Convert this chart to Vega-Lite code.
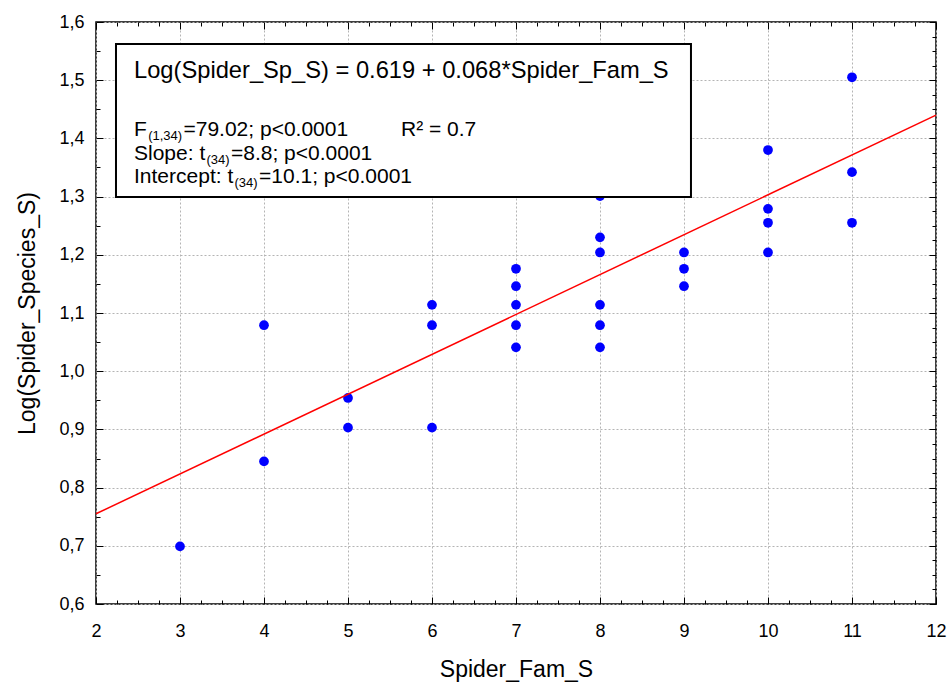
{
  "$schema": "https://vega.github.io/schema/vega-lite/v6.json",
  "width": 840,
  "height": 582,
  "autosize": {"type": "none"},
  "padding": {"left": 96, "top": 22, "right": 14, "bottom": 80},
  "background": "white",
  "datasets": {
    "pts": [
      {"fam": 3, "logsp": 0.699},
      {"fam": 4, "logsp": 1.079},
      {"fam": 4, "logsp": 0.845},
      {"fam": 5, "logsp": 0.954},
      {"fam": 5, "logsp": 0.903},
      {"fam": 6, "logsp": 1.114},
      {"fam": 6, "logsp": 1.079},
      {"fam": 6, "logsp": 0.903},
      {"fam": 7, "logsp": 1.176},
      {"fam": 7, "logsp": 1.146},
      {"fam": 7, "logsp": 1.114},
      {"fam": 7, "logsp": 1.079},
      {"fam": 7, "logsp": 1.041},
      {"fam": 8, "logsp": 1.301},
      {"fam": 8, "logsp": 1.230},
      {"fam": 8, "logsp": 1.204},
      {"fam": 8, "logsp": 1.114},
      {"fam": 8, "logsp": 1.079},
      {"fam": 8, "logsp": 1.041},
      {"fam": 9, "logsp": 1.204},
      {"fam": 9, "logsp": 1.176},
      {"fam": 9, "logsp": 1.146},
      {"fam": 10, "logsp": 1.380},
      {"fam": 10, "logsp": 1.279},
      {"fam": 10, "logsp": 1.255},
      {"fam": 10, "logsp": 1.204},
      {"fam": 11, "logsp": 1.505},
      {"fam": 11, "logsp": 1.342},
      {"fam": 11, "logsp": 1.255}
    ],
    "fit": [
      {"x": 2, "y": 0.755},
      {"x": 12, "y": 1.440}
    ]
  },
  "config": {
    "view": {"stroke": "black", "strokeWidth": 1.5},
    "font": "Liberation Sans",
    "axis": {
      "labelFont": "Liberation Sans",
      "titleFont": "Liberation Sans",
      "labelColor": "black",
      "titleColor": "black",
      "tickColor": "black",
      "tickWidth": 1,
      "domain": false,
      "labelFontSize": 18,
      "titleFontSize": 23,
      "titleFontWeight": "normal",
      "gridColor": "#b4b4b4",
      "gridDash": [2, 2],
      "gridWidth": 1
    }
  },
  "resolve": {"axis": {"x": "independent", "y": "independent"}},
  "layer": [
    {
      "data": {"name": "pts"},
      "mark": {"type": "circle", "color": "#0000ff", "opacity": 1, "size": 95},
      "encoding": {
        "x": {
          "field": "fam", "type": "quantitative",
          "scale": {"domain": [2, 12], "nice": false, "zero": false},
          "axis": {"orient": "bottom", "title": "Spider_Fam_S", "values": [2,3,4,5,6,7,8,9,10,11,12], "tickSize": -7, "labelPadding": 25, "titlePadding": 18, "grid": true, "format": "d", "labelFlush": false}
        },
        "y": {
          "field": "logsp", "type": "quantitative",
          "scale": {"domain": [0.6, 1.6], "nice": false, "zero": false},
          "axis": {"orient": "left", "title": "Log(Spider_Species_S)", "values": [0.6,0.7,0.8,0.9,1.0,1.1,1.2,1.3,1.4,1.5,1.6], "tickSize": -7, "labelPadding": 19, "titlePadding": 19, "grid": true, "labelExpr": "replace(format(datum.value, '.1f'), '.', ',')"}
        }
      }
    },
    {
      "data": {"name": "fit"},
      "mark": {"type": "line", "color": "#ff0000", "strokeWidth": 1.5},
      "encoding": {
        "x": {
          "field": "x", "type": "quantitative",
          "scale": {"domain": [2, 12], "nice": false, "zero": false},
          "axis": {"orient": "top", "title": null, "values": [2,3,4,5,6,7,8,9,10,11,12], "tickSize": -7, "labels": false, "grid": false}
        },
        "y": {
          "field": "y", "type": "quantitative",
          "scale": {"domain": [0.6, 1.6], "nice": false, "zero": false},
          "axis": {"orient": "right", "title": null, "values": [0.6,0.7,0.8,0.9,1.0,1.1,1.2,1.3,1.4,1.5,1.6], "tickSize": -7, "labels": false, "grid": false}
        }
      }
    },
    {
      "data": {"name": "fit"},
      "mark": {"type": "point", "opacity": 0},
      "encoding": {
        "x": {
          "field": "x", "type": "quantitative",
          "scale": {"domain": [2, 12], "nice": false, "zero": false},
          "axis": {"orient": "bottom", "title": null, "values": [2.25,2.5,2.75,3.25,3.5,3.75,4.25,4.5,4.75,5.25,5.5,5.75,6.25,6.5,6.75,7.25,7.5,7.75,8.25,8.5,8.75,9.25,9.5,9.75,10.25,10.5,10.75,11.25,11.5,11.75], "tickSize": -4, "labels": false, "grid": false}
        },
        "y": {
          "field": "y", "type": "quantitative",
          "scale": {"domain": [0.6, 1.6], "nice": false, "zero": false},
          "axis": {"orient": "left", "title": null, "values": [0.65,0.75,0.85,0.95,1.05,1.15,1.25,1.35,1.45,1.55], "tickSize": -4, "labels": false, "grid": false}
        }
      }
    },
    {
      "data": {"name": "fit"},
      "mark": {"type": "point", "opacity": 0},
      "encoding": {
        "x": {
          "field": "x", "type": "quantitative",
          "scale": {"domain": [2, 12], "nice": false, "zero": false},
          "axis": {"orient": "top", "title": null, "values": [2.25,2.5,2.75,3.25,3.5,3.75,4.25,4.5,4.75,5.25,5.5,5.75,6.25,6.5,6.75,7.25,7.5,7.75,8.25,8.5,8.75,9.25,9.5,9.75,10.25,10.5,10.75,11.25,11.5,11.75], "tickSize": -4, "labels": false, "grid": false}
        },
        "y": {
          "field": "y", "type": "quantitative",
          "scale": {"domain": [0.6, 1.6], "nice": false, "zero": false},
          "axis": {"orient": "right", "title": null, "values": [0.625,0.65,0.675,0.725,0.75,0.775,0.825,0.85,0.875,0.925,0.95,0.975,1.025,1.05,1.075,1.125,1.15,1.175,1.225,1.25,1.275,1.325,1.35,1.375,1.425,1.45,1.475,1.525,1.55,1.575], "tickSize": -4, "labels": false, "grid": false}
        }
      }
    },
    {
      "data": {"values": [{}]},
      "mark": {"type": "rect", "fill": "white", "stroke": "black", "strokeWidth": 2},
      "encoding": {
        "x": {"datum": 2.238, "type": "quantitative", "scale": {"domain": [2, 12], "nice": false, "zero": false}, "axis": null},
        "x2": {"datum": 9.083},
        "y": {"datum": 1.5622, "type": "quantitative", "scale": {"domain": [0.6, 1.6], "nice": false, "zero": false}, "axis": null},
        "y2": {"datum": 1.2993}
      }
    },
    {
      "data": {"values": [{}]},
      "mark": {"type": "text", "text": "Log(Spider_Sp_S) = 0.619 + 0.068*Spider_Fam_S", "fontSize": 23.7, "align": "left", "baseline": "alphabetic", "color": "black", "font": "Liberation Sans"},
      "encoding": {
        "x": {"datum": 2.4524, "type": "quantitative", "scale": {"domain": [2, 12], "nice": false, "zero": false}, "axis": null},
        "y": {"datum": 1.5038, "type": "quantitative", "scale": {"domain": [0.6, 1.6], "nice": false, "zero": false}, "axis": null}
      }
    },
    {
      "data": {"values": [{}]},
      "mark": {"type": "text", "text": "F", "fontSize": 21, "align": "left", "baseline": "alphabetic", "color": "black", "font": "Liberation Sans"},
      "encoding": {
        "x": {"datum": 2.4524, "type": "quantitative", "scale": {"domain": [2, 12], "nice": false, "zero": false}, "axis": null},
        "y": {"datum": 1.4041, "type": "quantitative", "scale": {"domain": [0.6, 1.6], "nice": false, "zero": false}, "axis": null}
      }
    },
    {
      "data": {"values": [{}]},
      "mark": {"type": "text", "text": "(1,34)", "fontSize": 13, "align": "left", "baseline": "alphabetic", "color": "black", "font": "Liberation Sans"},
      "encoding": {
        "x": {"datum": 2.6208, "type": "quantitative", "scale": {"domain": [2, 12], "nice": false, "zero": false}, "axis": null},
        "y": {"datum": 1.3972, "type": "quantitative", "scale": {"domain": [0.6, 1.6], "nice": false, "zero": false}, "axis": null}
      }
    },
    {
      "data": {"values": [{}]},
      "mark": {"type": "text", "text": "=79.02; p<0.0001", "fontSize": 21, "align": "left", "baseline": "alphabetic", "color": "black", "font": "Liberation Sans"},
      "encoding": {
        "x": {"datum": 3.0415, "type": "quantitative", "scale": {"domain": [2, 12], "nice": false, "zero": false}, "axis": null},
        "y": {"datum": 1.4041, "type": "quantitative", "scale": {"domain": [0.6, 1.6], "nice": false, "zero": false}, "axis": null}
      }
    },
    {
      "data": {"values": [{}]},
      "mark": {"type": "text", "text": "R² = 0.7", "fontSize": 21, "align": "left", "baseline": "alphabetic", "color": "black", "font": "Liberation Sans"},
      "encoding": {
        "x": {"datum": 5.631, "type": "quantitative", "scale": {"domain": [2, 12], "nice": false, "zero": false}, "axis": null},
        "y": {"datum": 1.4041, "type": "quantitative", "scale": {"domain": [0.6, 1.6], "nice": false, "zero": false}, "axis": null}
      }
    },
    {
      "data": {"values": [{}]},
      "mark": {"type": "text", "text": "Slope: t", "fontSize": 21, "align": "left", "baseline": "alphabetic", "color": "black", "font": "Liberation Sans"},
      "encoding": {
        "x": {"datum": 2.4524, "type": "quantitative", "scale": {"domain": [2, 12], "nice": false, "zero": false}, "axis": null},
        "y": {"datum": 1.3629, "type": "quantitative", "scale": {"domain": [0.6, 1.6], "nice": false, "zero": false}, "axis": null}
      }
    },
    {
      "data": {"values": [{}]},
      "mark": {"type": "text", "text": "(34)", "fontSize": 13, "align": "left", "baseline": "alphabetic", "color": "black", "font": "Liberation Sans"},
      "encoding": {
        "x": {"datum": 3.316, "type": "quantitative", "scale": {"domain": [2, 12], "nice": false, "zero": false}, "axis": null},
        "y": {"datum": 1.356, "type": "quantitative", "scale": {"domain": [0.6, 1.6], "nice": false, "zero": false}, "axis": null}
      }
    },
    {
      "data": {"values": [{}]},
      "mark": {"type": "text", "text": "=8.8; p<0.0001", "fontSize": 21, "align": "left", "baseline": "alphabetic", "color": "black", "font": "Liberation Sans"},
      "encoding": {
        "x": {"datum": 3.607, "type": "quantitative", "scale": {"domain": [2, 12], "nice": false, "zero": false}, "axis": null},
        "y": {"datum": 1.3629, "type": "quantitative", "scale": {"domain": [0.6, 1.6], "nice": false, "zero": false}, "axis": null}
      }
    },
    {
      "data": {"values": [{}]},
      "mark": {"type": "text", "text": "Intercept: t", "fontSize": 21, "align": "left", "baseline": "alphabetic", "color": "black", "font": "Liberation Sans"},
      "encoding": {
        "x": {"datum": 2.4524, "type": "quantitative", "scale": {"domain": [2, 12], "nice": false, "zero": false}, "axis": null},
        "y": {"datum": 1.3234, "type": "quantitative", "scale": {"domain": [0.6, 1.6], "nice": false, "zero": false}, "axis": null}
      }
    },
    {
      "data": {"values": [{}]},
      "mark": {"type": "text", "text": "(34)", "fontSize": 13, "align": "left", "baseline": "alphabetic", "color": "black", "font": "Liberation Sans"},
      "encoding": {
        "x": {"datum": 3.6493, "type": "quantitative", "scale": {"domain": [2, 12], "nice": false, "zero": false}, "axis": null},
        "y": {"datum": 1.3165, "type": "quantitative", "scale": {"domain": [0.6, 1.6], "nice": false, "zero": false}, "axis": null}
      }
    },
    {
      "data": {"values": [{}]},
      "mark": {"type": "text", "text": "=10.1; p<0.0001", "fontSize": 21, "align": "left", "baseline": "alphabetic", "color": "black", "font": "Liberation Sans"},
      "encoding": {
        "x": {"datum": 3.9408, "type": "quantitative", "scale": {"domain": [2, 12], "nice": false, "zero": false}, "axis": null},
        "y": {"datum": 1.3234, "type": "quantitative", "scale": {"domain": [0.6, 1.6], "nice": false, "zero": false}, "axis": null}
      }
    }
  ]
}
